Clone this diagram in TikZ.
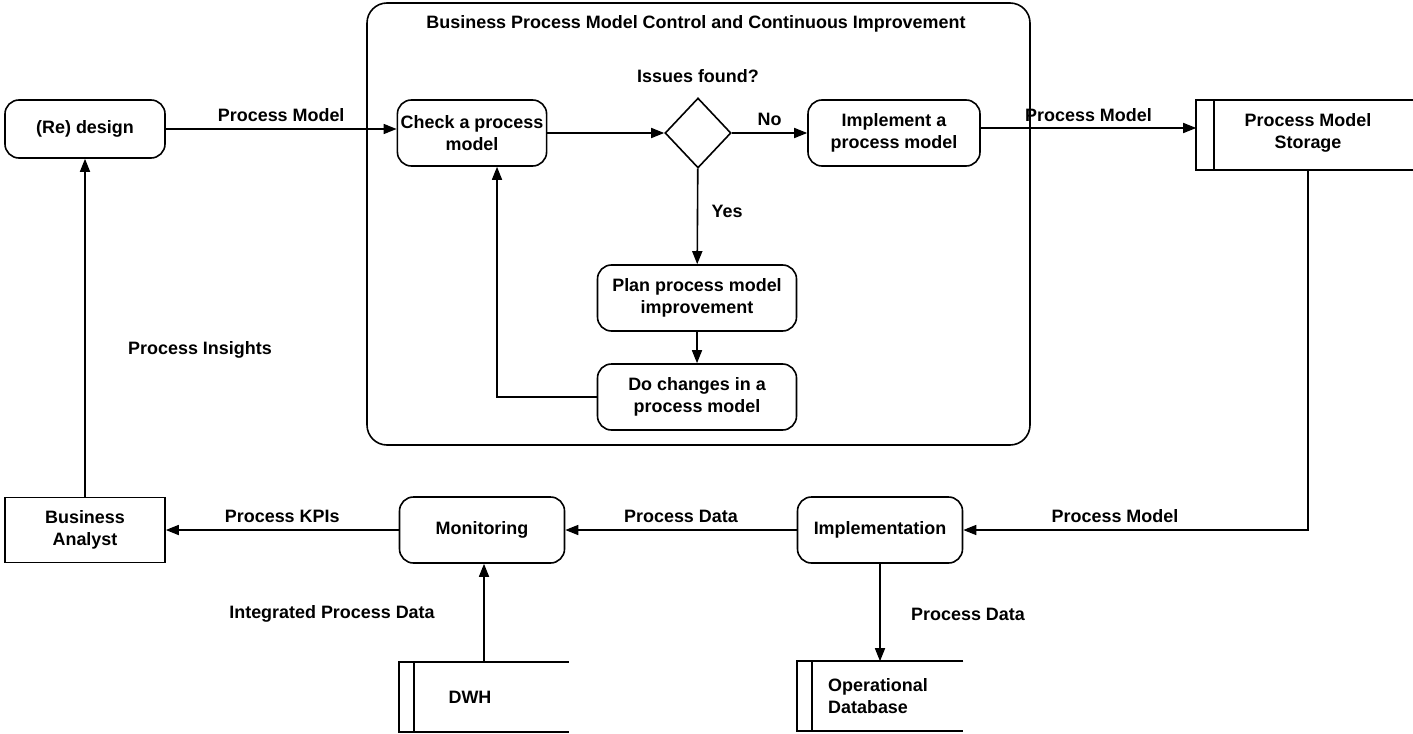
\documentclass[tikz,border=0pt]{standalone}
\usepackage{fontspec}
\setmainfont{Liberation Sans}
\usetikzlibrary{arrows.meta,shapes.geometric}

\begin{document}
\begin{tikzpicture}
[
x=1bp, y=-1bp,
line width=1.6bp,
font=\fontsize{18}{22}\selectfont\bfseries,
step-a/.style={rectangle, rounded corners=14bp, draw, align=center, minimum width=165bp, minimum height=66bp},
actor-a/.style={rectangle, draw, align=center, minimum width=160bp, minimum height=65bp},
store-a/.style={rectangle, align=center, minimum height=68bp},
gate-a/.style={diamond, draw, minimum width=66bp, minimum height=70bp, inner sep=0pt},
flow-a/.style={-{Triangle[length=13bp,width=10bp]}},
text-a/.style={black, align=center}
]
\useasboundingbox (0,0) rectangle (1413,733);
\draw[rounded corners=20bp] (367,3) rectangle (1030,445);
\node (title)    [text-a] at (696,24) {Business Process Model Control and Continuous Improvement};

\node (redesign) [step-a, minimum width=160bp, minimum height=58bp] at (85,129) {(Re) design};
\node (check)    [step-a, minimum width=145bp] at (472,133) {Check a process\\model};
\node (issues)   [gate-a] at (698,133) {};
\node (issues-t) [text-a] at (698,76) {Issues found?};
\node (impl-pm)  [step-a, minimum width=172bp] at (894,133) {Implement a\\process model};
\node (plan)     [step-a, minimum width=199bp] at (697,298) {Plan process model\\improvement};
\node (changes)  [step-a, minimum width=199bp] at (697,397) {Do changes in a\\process model};

\node (analyst)  [actor-a] at (85,530) {Business\\Analyst};
\node (monitor)  [step-a] at (482,530) {Monitoring};
\node (impl)     [step-a] at (880,530) {Implementation};

% data stores
\node (storage)  [store-a, minimum width=216bp] at (1305,135) {};
\node            [text-a] at (1308,133) {Process Model\\Storage};
\node (dwh)      [store-a, minimum width=168bp] at (484,697) {};
\node            [text-a] at (470,697) {DWH};
\node (opdb)     [store-a, minimum width=165bp] at (880,696) {};
\node            [text-a, align=left] at (878,696) {Operational\\Database};
\foreach \s/\d in {storage/18, dwh/15, opdb/15}{
  \draw (\s.north east) -- (\s.north west) -- (\s.south west) -- (\s.south east);
  \draw ([xshift=\d bp]\s.north west) -- ([xshift=\d bp]\s.south west);
}

% connectors
\draw[flow-a] (redesign) -- node[above=3bp, text-a] {Process Model} (check.west |- redesign);
\draw[flow-a] (check) -- (issues);
\draw[flow-a] (issues) -- node[above=3bp, text-a] {No} (impl-pm);
\draw[flow-a] (impl-pm.east |- 0,128) -- node[above=2bp, text-a] {Process Model} (storage.west |- 0,128);
\draw[flow-a] (issues) -- node[right=10bp, text-a, pos=0.45] {Yes} (plan);
\draw[flow-a] (plan) -- (changes);
\draw[flow-a] (changes.west) -| (check.south -| 497,0);
\draw[flow-a] (storage.south -| 1308,0) |- node[above=3bp, text-a, pos=0.78] {Process Model} (impl.east);
\draw[flow-a] (impl) -- node[above=3bp, text-a] {Process Data} (monitor);
\draw[flow-a] (monitor) -- node[above=3bp, text-a] {Process KPIs} (analyst);
\draw[flow-a] (analyst) -- (redesign);
\node (insights) [text-a] at (200,350) {Process Insights};
\draw[flow-a] (dwh.north) -- (monitor.south -| dwh.north);
\node (integr)   [text-a] at (332,614) {Integrated Process Data};
\draw[flow-a] (impl) -- (opdb.north -| impl);
\node (pdata)    [text-a] at (968,614) {Process Data};
\end{tikzpicture}
\end{document}
